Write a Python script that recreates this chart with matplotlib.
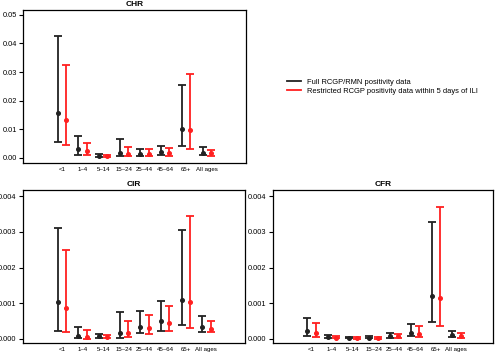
import matplotlib
matplotlib.use("Agg")
import matplotlib.pyplot as plt
from matplotlib.lines import Line2D
import numpy as np

plt.rcParams['font.family'] = ['Liberation Sans', 'DejaVu Sans']

age_groups = ["<1", "1\u20134", "5\u201314", "15\u201324", "25\u201344", "45\u201364", "65+", "All ages"]
series_labels = ["Full RCGP/RMN positivity data",
                 "Restricted RCGP positivity data within 5 days of ILI"]

# CHR
chr_full_est = [0.0158, 0.0032, 0.0008, 0.0018, 0.0015, 0.0020, 0.0103, 0.0019]
chr_full_lo  = [0.0056, 0.0012, 0.0004, 0.0006, 0.0007, 0.0009, 0.0041, 0.0011]
chr_full_hi  = [0.0425, 0.0076, 0.0014, 0.0067, 0.0033, 0.0042, 0.0255, 0.0039]
chr_rest_est = [0.0132, 0.0023, 0.0007, 0.0015, 0.0014, 0.0016, 0.0098, 0.0016]
chr_rest_lo  = [0.0044, 0.0009, 0.0004, 0.0007, 0.0007, 0.0008, 0.0032, 0.0008]
chr_rest_hi  = [0.0324, 0.0054, 0.0012, 0.0039, 0.0030, 0.0035, 0.0292, 0.0029]

# CIR
cir_full_est = [0.00104, 0.00009, 0.00007, 0.00016, 0.00033, 0.00050, 0.00109, 0.00033]
cir_full_lo  = [0.00022, 0.00002, 0.00003, 0.00002, 0.00016, 0.00023, 0.00039, 0.00020]
cir_full_hi  = [0.00312, 0.00034, 0.00015, 0.00075, 0.00079, 0.00105, 0.00305, 0.00065]
cir_rest_est = [0.00086, 0.00006, 0.00006, 0.00018, 0.00030, 0.00044, 0.00104, 0.00027]
cir_rest_lo  = [0.00019, 0.00001, 0.00003, 0.00005, 0.00014, 0.00021, 0.00030, 0.00019]
cir_rest_hi  = [0.00249, 0.00025, 0.00012, 0.00051, 0.00066, 0.00091, 0.00344, 0.00050]

# CFR
cfr_full_est = [0.00021, 0.00006, 0.00004, 0.00004, 0.00008, 0.00018, 0.00119, 0.00010]
cfr_full_lo  = [0.00008, 0.00002, 0.00002, 0.00002, 0.00004, 0.00008, 0.00047, 0.00006]
cfr_full_hi  = [0.00059, 0.00010, 0.00006, 0.00007, 0.00016, 0.00042, 0.00328, 0.00023]
cfr_rest_est = [0.00017, 0.00004, 0.00003, 0.00003, 0.00007, 0.00015, 0.00114, 0.00008]
cfr_rest_lo  = [0.00006, 0.00002, 0.00001, 0.00001, 0.00003, 0.00006, 0.00035, 0.00004]
cfr_rest_hi  = [0.00045, 0.00007, 0.00005, 0.00005, 0.00013, 0.00037, 0.00369, 0.00017]

chr_ticks = [0.00, 0.01, 0.02, 0.03, 0.04, 0.05]
chr_ticklabels = ["0.00", "0.01", "0.02", "0.03", "0.04", "0.05"]
small_ticks = [0.000, 0.001, 0.002, 0.003, 0.004]
small_ticklabels = ["0.000", "0.001", "0.002", "0.003", "0.004"]

W, H = 495, 356
fig = plt.figure(figsize=(W / 100, H / 100), dpi=100)

def add_ax(x0, y0, x1, y1):
    return fig.add_axes([x0 / W, 1 - y1 / H, (x1 - x0) / W, (y1 - y0) / H])

BLACK = "#222222"
RED = "#ff2020"

def panel(ax, title, full, rest, ticks, ticklabels, ylim, xlim):
    x = np.arange(1, len(age_groups) + 1)
    for (est, lo, hi), col, off in ((full, BLACK, -0.2), (rest, RED, 0.2)):
        est = np.array(est); lo = np.array(lo); hi = np.array(hi)
        ax.errorbar(x + off, est, yerr=[est - lo, hi - est], fmt='o', color=col,
                    ecolor=col, elinewidth=1.3, capsize=2.8, capthick=1.3,
                    markersize=2.6, zorder=3)
    ax.set_xlim(*xlim)
    ax.set_ylim(*ylim)
    ax.set_xticks(x)
    ax.set_xticklabels(age_groups, fontsize=4.4)
    ax.tick_params(axis='x', length=0, pad=3)
    ax.set_yticks(ticks)
    ax.set_yticklabels(ticklabels, fontsize=5.3)
    ax.tick_params(axis='y', length=3, width=0.8, pad=1.5, direction='out')
    for s in ax.spines.values():
        s.set_linewidth(0.9)
        s.set_color("black")
    ax.set_title(title, fontsize=6, fontweight='bold', pad=3)

ax1 = add_ax(23, 10, 246, 163)
panel(ax1, "CHR", (chr_full_est, chr_full_lo, chr_full_hi),
      (chr_rest_est, chr_rest_lo, chr_rest_hi), chr_ticks, chr_ticklabels,
      (-0.00175, 0.0517), (-0.88, 9.9))

ax2 = add_ax(23, 190, 245, 343)
panel(ax2, "CIR", (cir_full_est, cir_full_lo, cir_full_hi),
      (cir_rest_est, cir_rest_lo, cir_rest_hi), small_ticks, small_ticklabels,
      (-0.000112, 0.00417), (-0.88, 9.87))

ax3 = add_ax(273, 190, 493, 343)
panel(ax3, "CFR", (cfr_full_est, cfr_full_lo, cfr_full_hi),
      (cfr_rest_est, cfr_rest_lo, cfr_rest_hi), small_ticks, small_ticklabels,
      (-0.000112, 0.00417), (-0.86, 9.77))

handles = [Line2D([], [], color=BLACK, lw=1.3), Line2D([], [], color=RED, lw=1.3)]
fig.legend(handles, series_labels, loc='center left',
           bbox_to_anchor=(284 / W, 1 - 86.5 / H), frameon=False, fontsize=5.4,
           handlelength=1.8, handletextpad=0.9, labelspacing=0.25, borderaxespad=0)

fig.savefig("out.png", dpi=100)
